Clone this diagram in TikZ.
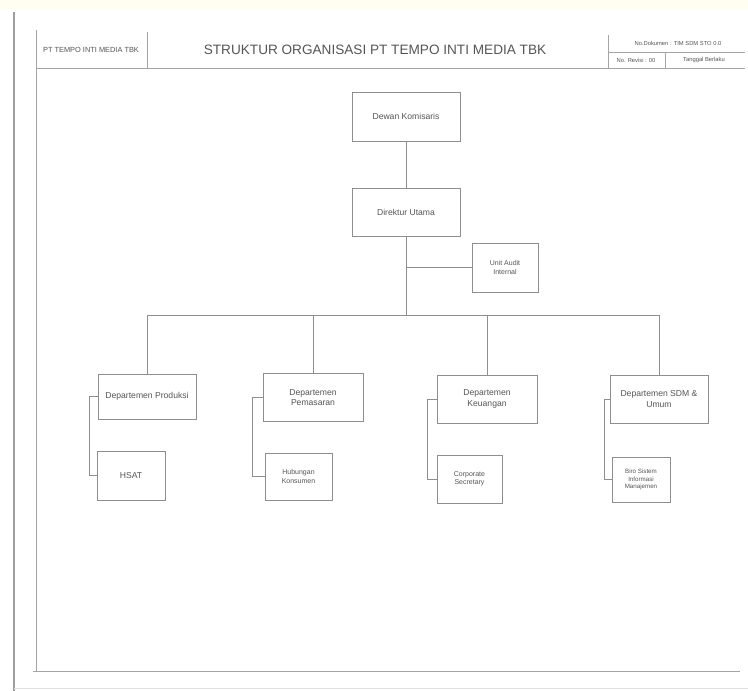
\documentclass[tikz,border=0pt]{standalone}
\usepackage{fontspec}
\setmainfont{Liberation Sans}
\definecolor{ln}{HTML}{8E8E8E}
\definecolor{tx}{HTML}{555555}
\begin{document}
\begin{tikzpicture}[x=1pt,y=-1pt,
  orgbox/.style={draw=ln,line width=0.9pt,rectangle,align=center,text=tx,font=\fontsize{8.6}{10.5}\selectfont,inner sep=1pt},
  conn/.style={draw=ln,line width=0.9pt},
  frame/.style={draw=ln!80,line width=1pt},
  hdr/.style={text=tx,inner sep=0pt}]
\useasboundingbox (0,0) rectangle (748,691);
\fill[white] (0,0) rectangle (748,691);
\fill[yellow!6] (0,0) rectangle (748,9);
% page edge
\draw[draw=gray!75,line width=2pt] (14,12) -- (14,691);
\draw[draw=gray!25,line width=1pt] (14,688) -- (748,688);
% inner frame
\draw[frame] (36,30) -- (36,672);
\draw[frame] (33,671) -- (740,671);
\draw[frame] (36,68) -- (745,68);
\draw[frame] (147,32) -- (147,68);
\draw[frame] (608,35) -- (608,68);
\draw[frame] (608,52) -- (745,52);
\draw[frame] (665,52) -- (665,68);
% header texts
\node[hdr,font=\fontsize{7.4}{8}\selectfont] (hl) at (91,50) {PT TEMPO INTI MEDIA TBK};
\node[hdr,font=\fontsize{13.6}{15}\selectfont] (title) at (375,50) {STRUKTUR ORGANISASI PT TEMPO INTI MEDIA TBK};
\node[hdr,font=\fontsize{5.8}{6.5}\selectfont] (doc) at (678,43) {No.Dokumen : TIM SDM STO 0.0};
\node[hdr,font=\fontsize{5.8}{6.5}\selectfont] (rev) at (636,60) {No. Revisi : 00};
\node[hdr,font=\fontsize{5.8}{6.5}\selectfont] (tgl) at (704,60) {Tanggal Berlaku};
% boxes
\node[orgbox,minimum width=108,minimum height=49] (dk) at (406,116.5) {Dewan Komisaris};
\node[orgbox,minimum width=108,minimum height=48] (du) at (406,212) {Direktur Utama};
\node[orgbox,minimum width=66,minimum height=49,font=\fontsize{7}{8.5}\selectfont] (ua) at (505,267.5) {Unit Audit\\Internal};
\node[orgbox,minimum width=98,minimum height=45] (d1) at (147,396.5) {Departemen Produksi};
\node[orgbox,minimum width=68,minimum height=49] (c1) at (131,475.5) {HSAT};
\node[orgbox,minimum width=100,minimum height=48] (d2) at (313,397.5) {Departemen\\Pemasaran};
\node[orgbox,minimum width=67,minimum height=47,font=\fontsize{7}{8.5}\selectfont] (c2) at (298.5,476.5) {Hubungan\\Konsumen};
\node[orgbox,minimum width=100,minimum height=48] (d3) at (487,399) {Departemen\\Keuangan};
\node[orgbox,minimum width=65,minimum height=48,font=\fontsize{7}{8.5}\selectfont] (c3) at (469.5,479) {Corporate\\Secretary};
\node[orgbox,minimum width=98,minimum height=48] (d4) at (659,399) {Departemen SDM \&\\Umum};
\node[orgbox,minimum width=58,minimum height=45,font=\fontsize{6.2}{7.8}\selectfont] (c4) at (641,479.5) {Biro Sistem\\Informasi\\Manajemen};
% connectors
\coordinate (bus) at (406,315);
\draw[conn] (dk.south) -- (du.south |- dk.south) -- (du.north);
\draw[conn] (du.south) -- (bus);
\draw[conn] (du.south |- ua.west) -- (ua.west);
\draw[conn] (d1.north |- bus) -- (d4.north |- bus);
\draw[conn] (d1.north |- bus) -- (d1.north);
\draw[conn] (d2.north |- bus) -- (d2.north);
\draw[conn] (d3.north |- bus) -- (d3.north);
\draw[conn] (d4.north |- bus) -- (d4.north);
\draw[conn] (d1.west) -- ++(-8,0) |- (c1.west);
\draw[conn] (d2.west) -- ++(-10,0) |- (c2.west);
\draw[conn] (d3.west) -- ++(-9,0) |- (c3.west);
\draw[conn] (d4.west) -- ++(-5,0) |- (c4.west);
\end{tikzpicture}
\end{document}
